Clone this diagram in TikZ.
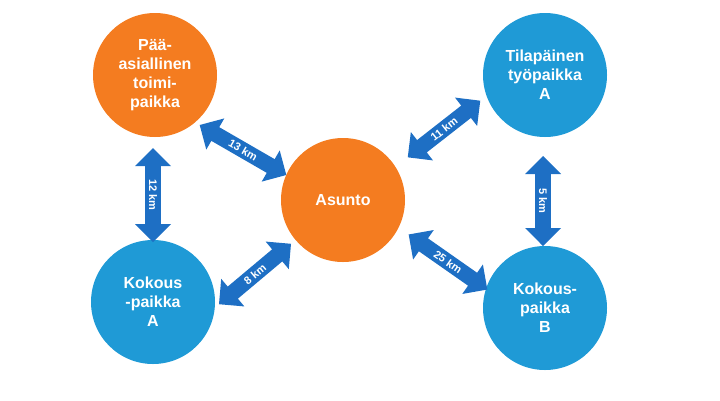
\documentclass[tikz,border=0pt]{standalone}
\usepackage{fontspec}
\setmainfont{Liberation Sans}
\usetikzlibrary{shapes.arrows}
\definecolor{org}{HTML}{F47C20}
\definecolor{cblue}{HTML}{1F9AD6}
\definecolor{ablue}{HTML}{1E6FC4}
\tikzset{
 place/.style={circle,minimum size=124pt,inner sep=0pt,text=white,font=\bfseries\fontsize{16}{19}\selectfont,align=center},
 oplace/.style={place,fill=org},
 bplace/.style={place,fill=cblue},
 darr/.style={double arrow,fill=ablue,text=white,font=\bfseries\fontsize{11}{13}\selectfont,
   minimum height=#1,minimum width=36pt,double arrow head extend=8pt,inner sep=2pt,double arrow head indent=0pt},
}
\begin{document}
\begin{tikzpicture}[x=1pt,y=-1pt]
\useasboundingbox (0,0) rectangle (720,400);
\node[oplace] (pp) at (155,75) {Pää-\\asiallinen\\toimi-\\paikka};
\node[oplace] (as) at (343,200) {Asunto};
\node[bplace] (ta) at (545,75) {Tilapäinen\\työpaikka\\A};
\node[bplace] (ka) at (153,302) {Kokous\\-paikka\\A};
\node[bplace] (kb) at (545,308) {Kokous-\\paikka\\B};
\node[darr=100pt,rotate=-30] (a1) at (243,150) {13 km};
\node[darr=92pt,rotate=38] (a2) at (444,129) {11 km};
\node[darr=94pt,rotate=-90] (a3) at (153,195) {12 km};
\node[darr=90pt,rotate=-90] (a4) at (543,201) {5 km};
\node[darr=94pt,rotate=40] (a5) at (255,274) {8 km};
\node[darr=96pt,rotate=-35] (a6) at (448,262) {25 km};
\end{tikzpicture}
\end{document}
